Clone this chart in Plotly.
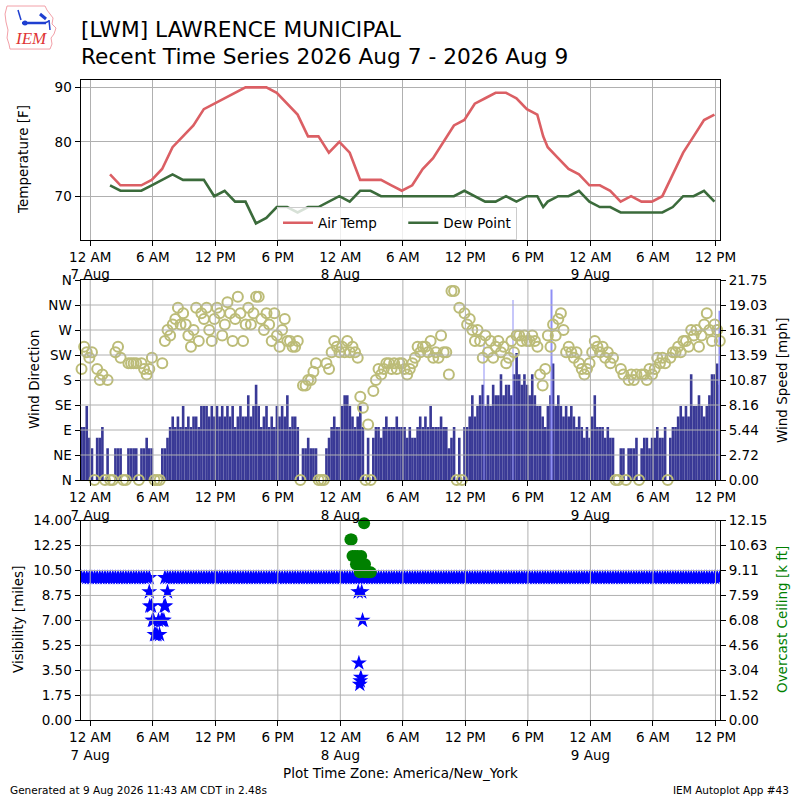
import pandas as pd
import plotly.graph_objects as go

# hourly obs (:54) from 07 Aug 01:54 to 09 Aug 11:54, plus one special
temp_start = "2026-08-07 01:54"
tmpf = [74, 72, 72, 72, 73, 75, 79, 81, 83, 86,
        87, 88, 89, 90, 90, 90, 89, 87, 85, 81,
        81, 78, 80, 78, 73, 73, 73, 72, 71, 72,
        75, 77, 80, 83, 84, 87, 88, 89, 89, 88,
        86, 85, 79, 77, 75, 74, 72, 72, 71, 69,
        70, 69, 69, 70, 74, 78, 81, 84, 85]
dwpf = [72, 71, 71, 71, 72, 73, 74, 73, 73, 73,
        70, 71, 69, 69, 65, 66, 68, 68, 67, 68,
        68, 69, 70, 69, 71, 71, 70, 70, 70, 70,
        70, 70, 70, 70, 71, 70, 69, 69, 70, 69,
        70, 70, 69, 70, 70, 71, 69, 68, 68, 67,
        67, 67, 67, 67, 68, 70, 70, 71, 69]
special_time = "2026-08-08 19:28"
special_tmpf = 81
special_dwpf = 68

# wind every 15 minutes from 06 Aug 23:10 (knots, degrees; 0/0 = calm)
wind_start = "2026-08-06 23:10"
sknt = [5, 5, 7, 4,
        3, 0, 4, 4, 5, 0, 3, 0, 0, 3, 3, 3, 0, 0, 3, 3, 3, 3, 0, 3,
        3, 4, 3, 3, 0, 0, 0, 3, 3, 4, 5, 6, 5, 6, 5, 7, 5, 6, 5, 6,
        6, 5, 7, 7, 7, 6, 7, 6, 7, 6, 7, 6, 7, 6, 7, 5, 6, 7, 6, 6,
        8, 6, 7, 9, 7, 5, 6, 7, 5, 6, 5, 7, 6, 7, 6, 8, 5, 6, 6, 5,
        0, 3, 3, 4, 3, 3, 3, 0, 0, 0, 3, 4, 5, 6, 5, 5, 7, 8, 8, 7,
        6, 5, 6, 7, 5, 0, 4, 0, 4, 5, 5, 4, 5, 6, 5, 5, 5, 6, 5, 5,
        5, 4, 5, 4, 4, 5, 6, 5, 6, 5, 7, 5, 5, 5, 6, 5, 5, 3, 4, 5,
        0, 4, 0, 5, 5, 6, 8, 6, 7, 8, 9, 7, 8, 7, 9, 8, 8, 10, 8, 9,
        9, 8, 10, 12, 10, 9, 10, 9, 8, 10, 8, 7, 7, 6, 5, 7, 8, 11, 7, 8,
        7, 6, 7, 6, 7, 6, 5, 6, 5, 4, 5, 4, 6, 8, 5, 5, 5, 4, 5, 4,
        4, 0, 0, 3, 3, 0, 3, 3, 3, 4, 0, 3, 4, 4, 3, 4, 4, 5, 4, 4,
        5, 0, 4, 5, 5, 6, 7, 6, 7, 6, 10, 7, 7, 8, 7, 6, 7, 8, 10, 10,
        11, 9]
drct = [200, 240, 230, 220,
        230, 0, 200, 180, 190, 0, 180, 0, 0, 230, 240, 220, 0, 0, 210, 210,
        210, 210, 0, 210, 200, 190, 200, 220, 0, 0, 0, 210, 250, 270, 260, 280,
        290, 310, 280, 300, 280, 260, 240, 270, 310, 250, 300, 290, 310, 270, 250, 290,
        310, 300, 260, 280, 320, 300, 250, 290, 330, 300, 250, 280, 310, 280, 300, 330,
        330, 290, 270, 300, 280, 250, 300, 260, 240, 270, 290, 250, 250, 240, 240, 250,
        0, 170, 170, 180, 180, 195, 210, 0, 0, 0, 210, 200, 230, 250, 240, 230,
        240, 230, 250, 230, 240, 230, 220, 150, 130, 0, 100, 0, 160, 180, 200, 190,
        200, 210, 210, 200, 210, 200, 210, 210, 200, 190, 200, 210, 220, 240, 230, 240,
        240, 230, 250, 220, 230, 220, 260, 230, 230, 190, 340, 340, 0, 310, 0, 300,
        280, 290, 270, 250, 270, 250, 220, 260, 230, 250, 220, 240, 250, 230, 240, 210,
        220, 250, 230, 260, 260, 250, 260, 250, 250, 260, 250, 240, 190, 170, 200, 260,
        240, 280, 260, 290, 300, 270, 230, 240, 230, 220, 230, 210, 200, 190, 200, 210,
        230, 250, 240, 230, 240, 220, 230, 210, 220, 0, 0, 200, 190, 0, 180, 190,
        180, 190, 0, 190, 190, 180, 200, 190, 200, 220, 210, 220, 210, 0, 220, 230,
        230, 240, 230, 250, 250, 240, 270, 260, 270, 240, 260, 280, 300, 270, 250, 280,
        270, 250]

gust_times = ["2026-08-08 13:47", "2026-08-08 16:34", "2026-08-08 20:17", "2026-08-09 12:24"]
gust_sknt = [13, 17, 18, 16]

# visibility on the same 15 minute steps, gap where the low values are
vis = [10] * 27 + [None] * 5 + [10] * 214
vis_low_times = ["2026-08-07 05:40", "2026-08-07 05:43", "2026-08-07 05:53", "2026-08-07 05:58",
                 "2026-08-07 06:04", "2026-08-07 06:10", "2026-08-07 06:17", "2026-08-07 06:24",
                 "2026-08-07 06:33", "2026-08-07 06:39", "2026-08-07 06:50", "2026-08-07 06:57",
                 "2026-08-07 07:04", "2026-08-07 07:06", "2026-08-07 07:13", "2026-08-07 07:25",
                 "2026-08-08 01:43", "2026-08-08 01:47", "2026-08-08 01:52", "2026-08-08 01:55",
                 "2026-08-08 01:58", "2026-08-08 02:03", "2026-08-08 02:08"]
vis_low = [9, 8, 8, 7, 7, 6, 6, 6, 7, 6, 7, 7, 7, 8, 8, 9,
           9, 4, 2.5, 2.75, 3, 9, 7]

ceil_times = ["2026-08-08 00:58", "2026-08-08 01:05", "2026-08-08 01:10", "2026-08-08 01:25",
              "2026-08-08 01:30", "2026-08-08 01:40", "2026-08-08 01:52", "2026-08-08 02:00",
              "2026-08-08 02:02", "2026-08-08 02:17", "2026-08-08 02:22", "2026-08-08 02:22",
              "2026-08-08 02:42", "2026-08-08 02:55"]
ceil_kft = [11, 11, 10, 10, 9.5, 10, 9, 10, 9.5, 12, 9.5, 9, 9, 9]

x_range = ["2026-08-06 23:04", "2026-08-09 12:26"]
x_ticks = pd.date_range("2026-08-07 00:00", "2026-08-09 12:00", freq="6h")
x_labels = ["12 AM<br>7 Aug", "6 AM", "12 PM", "6 PM", "12 AM<br>8 Aug", "6 AM",
            "12 PM", "6 PM", "12 AM<br>9 Aug", "6 AM", "12 PM"]
dir_ticks = [0, 45, 90, 135, 180, 225, 270, 315, 360]
dir_labels = ["N", "NE", "E", "SE", "S", "SW", "W", "NW", "N"]
spd_ticks = [0, 2.71875, 5.4375, 8.15625, 10.875, 13.59375, 16.3125, 19.03125, 21.75]
spd_labels = ["0.00", "2.72", "5.44", "8.16", "10.87", "13.59", "16.31", "19.03", "21.75"]
vis_ticks = [0, 1.75, 3.5, 5.25, 7, 8.75, 10.5, 12.25, 14]
vis_labels = ["0.00", "1.75", "3.50", "5.25", "7.00", "8.75", "10.50", "12.25", "14.00"]
ceil_ticks = [0, 1.51875, 3.0375, 4.55625, 6.075, 7.59375, 9.1125, 10.63125, 12.15]
ceil_labels = ["0.00", "1.52", "3.04", "4.56", "6.08", "7.59", "9.11", "10.63", "12.15"]

temp_times = list(pd.date_range(temp_start, periods=len(tmpf), freq="h"))
temp_times.insert(42, pd.Timestamp(special_time))
tmpf.insert(42, special_tmpf)
dwpf.insert(42, special_dwpf)
wind_times = pd.date_range(wind_start, periods=len(sknt), freq="15min")
smph = [s * 1.15078 for s in sknt]
gust_mph = [s * 1.15078 for s in gust_sknt]

FONT = "DejaVu Sans"
GRID = "#b0b0b0"


def px(x):
    return x / 800.0


def py(y):
    return 1 - y / 800.0


fig = go.Figure()

# padded name keeps the two legend entries apart like the original
fig.add_trace(go.Scatter(x=temp_times, y=tmpf, mode="lines", name="Air Temp" + "\u00a0" * 5,
                         line=dict(color="#db5f64", width=2.6), xaxis="x", yaxis="y"))
fig.add_trace(go.Scatter(x=temp_times, y=dwpf, mode="lines", name="Dew Point",
                         line=dict(color="#3b6b3b", width=2.6), xaxis="x", yaxis="y"))

fig.add_trace(go.Bar(x=wind_times, y=smph, width=15 * 60 * 1000, marker_color="#393996",
                     marker_line_width=0, showlegend=False, xaxis="x2", yaxis="y2"))
fig.add_trace(go.Bar(x=pd.to_datetime(gust_times), y=gust_mph, width=4 * 60 * 1000,
                     marker_color="#8f8ff5", marker_line_width=0, showlegend=False,
                     xaxis="x2", yaxis="y2"))
fig.add_trace(go.Scatter(x=wind_times, y=drct, mode="markers", showlegend=False,
                         marker=dict(symbol="circle-open", size=10, color="#bcbc78",
                                     line=dict(width=2, color="#bcbc78")),
                         cliponaxis=False, xaxis="x2", yaxis="y3"))

fig.add_trace(go.Scatter(x=list(wind_times) + list(pd.to_datetime(vis_low_times)),
                         y=vis + vis_low, mode="markers", showlegend=False,
                         marker=dict(symbol="star", size=12, color="#0000ff", line_width=0),
                         xaxis="x3", yaxis="y4"))
fig.add_trace(go.Scatter(x=pd.to_datetime(ceil_times), y=ceil_kft, mode="markers",
                         showlegend=False, cliponaxis=False,
                         marker=dict(symbol="circle", size=12, color="#008000", line_width=0),
                         xaxis="x3", yaxis="y5"))

xcommon = dict(type="date", range=x_range, tickvals=x_ticks, ticktext=x_labels,
               ticks="outside", ticklen=5, tickcolor="black", showline=True, mirror=True,
               linecolor="black", linewidth=1, domain=[px(80.5), px(720)], automargin=False,
               tickfont=dict(size=13.5, color="black"))
ycommon = dict(ticks="outside", ticklen=5, tickcolor="black", showline=True,
               linecolor="black", linewidth=1, tickfont=dict(size=13.5, color="black"),
               zeroline=False, automargin=False)

fig.update_layout(
    width=800, height=800, autosize=False,
    margin=dict(l=0, r=0, t=0, b=0),
    paper_bgcolor="white", plot_bgcolor="white",
    font=dict(family=FONT, size=13.5, color="black"),
    barmode="overlay",
    xaxis=dict(xcommon, anchor="y", showgrid=True, gridcolor=GRID),
    xaxis2=dict(xcommon, anchor="y2", showgrid=False),
    xaxis3=dict(xcommon, anchor="y4", showgrid=False),
    yaxis=dict(ycommon, domain=[py(239.7), py(80.3)], range=[62.0, 91.3],
               tickvals=[70, 80, 90], showgrid=True, gridcolor=GRID, mirror=True,
               anchor="x"),
    yaxis2=dict(ycommon, domain=[py(480), py(280)], range=[0, 21.75], side="right",
                tickvals=spd_ticks, ticktext=spd_labels, showgrid=False, anchor="x2"),
    yaxis3=dict(ycommon, range=[0, 360], overlaying="y2", side="left",
                tickvals=dir_ticks, ticktext=dir_labels, showgrid=False, anchor="x2"),
    yaxis4=dict(ycommon, domain=[py(720), py(520.7)], range=[0, 14],
                tickvals=vis_ticks, ticktext=vis_labels, showgrid=False, anchor="x3"),
    yaxis5=dict(ycommon, range=[0, 12.15], overlaying="y4", side="right",
                tickvals=ceil_ticks, ticktext=ceil_labels, showgrid=False, anchor="x3"),
    legend=dict(orientation="h", x=px(277), y=py(206.5), xanchor="left", yanchor="top",
                bgcolor="rgba(255,255,255,0.8)", bordercolor="#cccccc", borderwidth=1,
                font=dict(size=13.5), itemwidth=30),
)

# grid drawn over the bars and stars, like the original
shapes = []
for xa, ya in (("x2", "y2 domain"), ("x3", "y4 domain")):
    for t in x_ticks:
        shapes.append(dict(type="line", xref=xa, yref=ya, x0=t, x1=t, y0=0, y1=1,
                           layer="above", line=dict(color=GRID, width=1)))
for v in dir_ticks[1:-1]:
    shapes.append(dict(type="line", xref="x2 domain", yref="y3", x0=0, x1=1, y0=v, y1=v,
                       layer="above", line=dict(color=GRID, width=1)))
for v in vis_ticks[1:-1]:
    shapes.append(dict(type="line", xref="x3 domain", yref="y4", x0=0, x1=1, y0=v, y1=v,
                       layer="above", line=dict(color=GRID, width=1)))

# IEM logo, roughly
iowa = [(7, 6), (45, 6), (47, 10), (50, 14), (53, 18), (52, 24), (56, 28), (54, 34),
        (51, 38), (52, 44), (50, 49), (10, 49), (9, 44), (7, 38), (8, 30), (6, 22), (5, 14)]
path = "M " + " L ".join(f"{px(a):.4f},{py(b):.4f}" for a, b in iowa) + " Z"
shapes.append(dict(type="path", xref="paper", yref="paper", path=path,
                   line=dict(color="#f2a0a8", width=1), fillcolor="rgba(0,0,0,0)"))
for (a, b, c, d, w) in [(18, 10, 21, 20, 1.5), (22, 23, 46, 23, 2.5), (40, 14, 46, 19, 3),
                        (49, 20, 50, 30, 1.5), (45, 23, 49, 21, 1.5)]:
    shapes.append(dict(type="line", xref="paper", yref="paper", x0=px(a), y0=py(b),
                       x1=px(c), y1=py(d), line=dict(color="#1f3fd0", width=w)))
shapes.append(dict(type="circle", xref="paper", yref="paper", x0=px(22.5), x1=px(27.5),
                   y0=py(25.5), y1=py(20.5), fillcolor="#1f3fd0", line_width=0))
fig.update_layout(shapes=shapes)

ann = [
    dict(text="[LWM] LAWRENCE MUNICIPAL", x=px(79), y=py(30), xanchor="left",
         yanchor="middle", font=dict(size=21.7)),
    dict(text="Recent Time Series 2026 Aug 7 - 2026 Aug 9", x=px(79), y=py(56.5),
         xanchor="left", yanchor="middle", font=dict(size=21.7)),
    dict(text="<i>IEM</i>", x=px(31), y=py(39), xanchor="center", yanchor="middle",
         font=dict(family="Liberation Serif", size=17, color="#e03535")),
    dict(text="Temperature [F]", x=px(23), y=py(160), textangle=-90,
         xanchor="center", yanchor="middle"),
    dict(text="Wind Direction", x=px(34), y=py(380), textangle=-90,
         xanchor="center", yanchor="middle"),
    dict(text="Wind Speed [mph]", x=px(782), y=py(380), textangle=-90,
         xanchor="center", yanchor="middle"),
    dict(text="Visibility [miles]", x=px(18), y=py(620), textangle=-90,
         xanchor="center", yanchor="middle"),
    dict(text="Overcast Ceiling [k ft]", x=px(782), y=py(620), textangle=-90,
         xanchor="center", yanchor="middle", font=dict(color="#008000")),
    dict(text="Plot Time Zone: America/New_York", x=px(400), y=py(773),
         xanchor="center", yanchor="middle"),
    dict(text="Generated at 9 Aug 2026 11:43 AM CDT in 2.48s", x=px(8), y=py(790),
         xanchor="left", yanchor="middle", font=dict(size=10.5)),
    dict(text="IEM Autoplot App #43", x=px(791), y=py(790), xanchor="right",
         yanchor="middle", font=dict(size=10.5)),
]
for a in ann:
    a.update(xref="paper", yref="paper", showarrow=False)
fig.update_layout(annotations=ann)

fig.write_html("out.html", config={"displayModeBar": False},
               post_script="document.body.style.margin='0';")
